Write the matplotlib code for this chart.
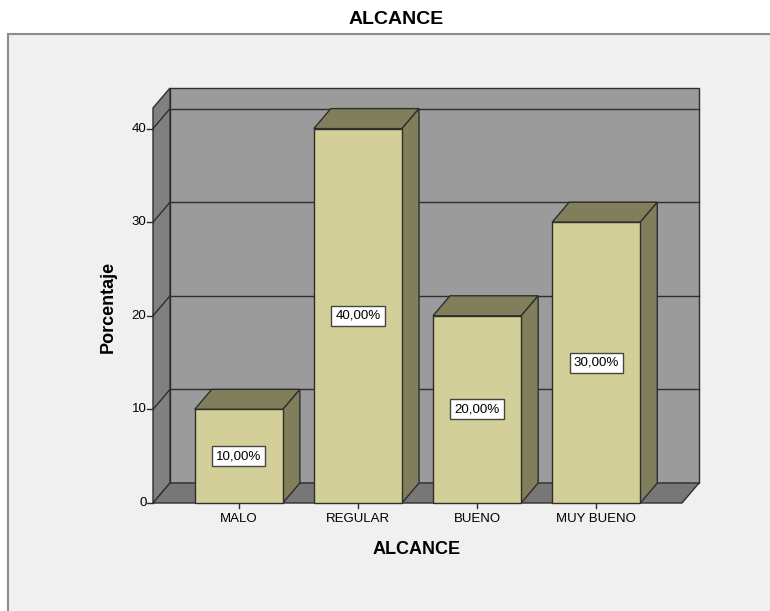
import matplotlib
matplotlib.use("Agg")
import matplotlib.pyplot as plt
from matplotlib.patches import Polygon, Rectangle

plt.rcParams['font.family'] = ['Liberation Sans', 'DejaVu Sans']

# Data
categories = ["MALO", "REGULAR", "BUENO", "MUY BUENO"]
porcentajes = [10.0, 40.0, 20.0, 30.0]
yticks = [0, 10, 20, 30, 40]
title = "ALCANCE"
xlabel = "ALCANCE"
ylabel = "Porcentaje"

W, H = 770, 611
fig = plt.figure(figsize=(W / 100, H / 100), dpi=100)
fig.patch.set_facecolor("white")

# Outer chart frame
fig.patches.append(Rectangle((8 / W, -0.05), 1.2, (H - 34) / H + 0.05,
                             transform=fig.transFigure, facecolor="#F0F0F0",
                             edgecolor="#8C8C8C", lw=1.5, zorder=-5))
fig.text(396 / W, 1 - 19 / H, title, ha="center", va="center",
         fontsize=14, fontweight="bold")

# Front face of the plotting box
left, right, bottom, top = 153, 682, 503, 108
ax = fig.add_axes([left / W, (H - bottom) / H, (right - left) / W, (bottom - top) / H])
x0, x1 = -0.72, len(categories) - 1 + 0.72
ymax = 42.2
ax.set_xlim(x0, x1)
ax.set_ylim(0, ymax)
ax.axis("off")

# depth offset (in data units) for the 3D look
ddx = 17 / (right - left) * (x1 - x0)
ddy = 20 / (bottom - top) * ymax

edge = "#2E2E2E"
back_c = "#9B9B9B"
side_c = "#808080"
floor_c = "#777777"
bar_front = "#D3CF98"
bar_dark = "#817F5B"

def poly(pts, fc, z, lw=1.0):
    ax.add_patch(Polygon(pts, closed=True, facecolor=fc, edgecolor=edge,
                         lw=lw, zorder=z, clip_on=False, joinstyle="miter"))

# back wall, left wall, floor
poly([(x0 + ddx, ddy), (x1 + ddx, ddy), (x1 + ddx, ymax + ddy), (x0 + ddx, ymax + ddy)], back_c, 1)
poly([(x0, 0), (x0 + ddx, ddy), (x0 + ddx, ymax + ddy), (x0, ymax)], side_c, 1)
poly([(x0, 0), (x1, 0), (x1 + ddx, ddy), (x0 + ddx, ddy)], floor_c, 1)

# gridlines on the back and left walls
for v in yticks[1:]:
    ax.plot([x0 + ddx, x1 + ddx], [v + ddy, v + ddy], color=edge, lw=1.0, zorder=2, clip_on=False)
    ax.plot([x0, x0 + ddx], [v, v + ddy], color=edge, lw=1.0, zorder=2, clip_on=False)

# y ticks and labels
tick_dx = 6 / (right - left) * (x1 - x0)
for v in yticks:
    ax.plot([x0 - tick_dx, x0], [v, v], color=edge, lw=1.0, zorder=2, clip_on=False)
    ax.text(x0 - tick_dx - 0.005, v, str(v), ha="right", va="center", fontsize=9.5)

# x ticks and labels
tick_dy = 5 / (bottom - top) * ymax
for i, c in enumerate(categories):
    ax.plot([i, i], [0, -tick_dy], color=edge, lw=1.0, zorder=2, clip_on=False)
    ax.text(i, -tick_dy - 0.5, c, ha="center", va="top", fontsize=9.5)

# bars
bw = 0.74
for i, v in enumerate(porcentajes):
    a, b = i - bw / 2, i + bw / 2
    poly([(a, v), (b, v), (b + ddx, v + ddy), (a + ddx, v + ddy)], bar_dark, 3)
    poly([(b, 0), (b + ddx, ddy), (b + ddx, v + ddy), (b, v)], bar_dark, 3)
    poly([(a, 0), (b, 0), (b, v), (a, v)], bar_front, 4)
    ax.text(i, v / 2, f"{v:.2f}%".replace(".", ","), ha="center", va="center",
            fontsize=9.6, zorder=5,
            bbox=dict(boxstyle="square,pad=0.3", facecolor="white", edgecolor="#444444", lw=1.0))

fig.text(108 / W, 1 - 307 / H, ylabel, rotation=90, ha="center", va="center",
         fontsize=13, fontweight="bold")
fig.text(417 / W, 1 - 550 / H, xlabel, ha="center", va="center",
         fontsize=13, fontweight="bold")

fig.savefig("out.png", dpi=100)
